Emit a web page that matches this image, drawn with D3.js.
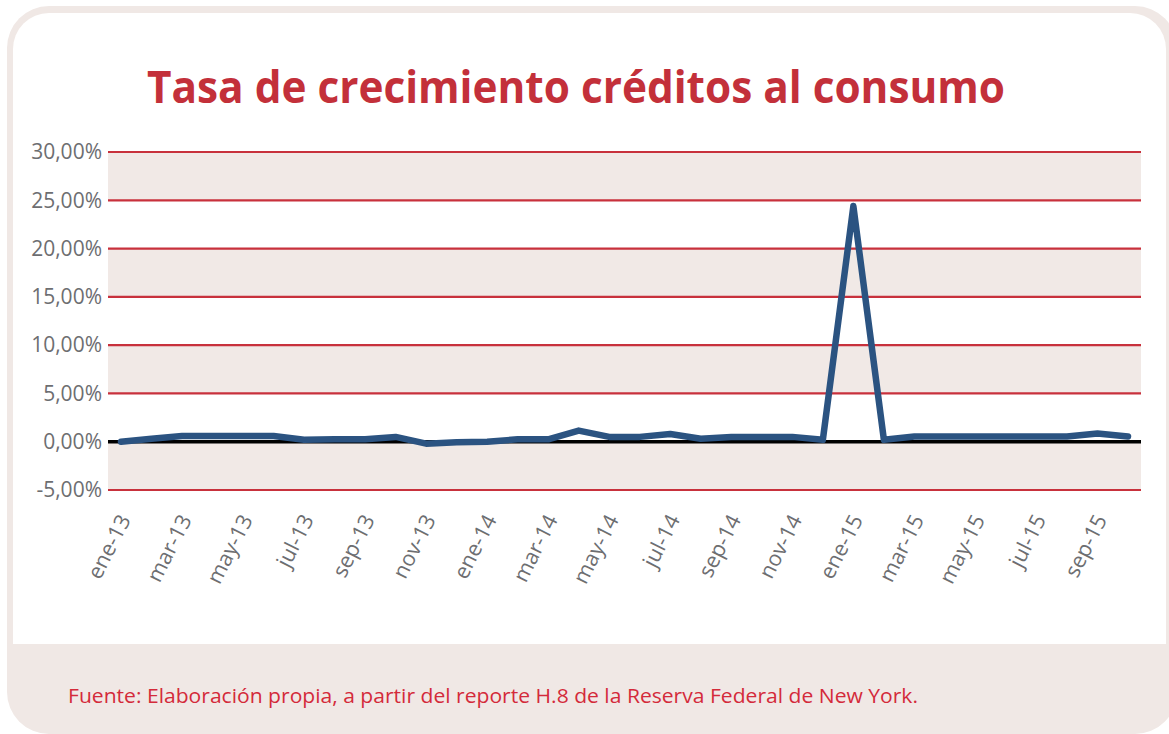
<!DOCTYPE html>
<html>
<head>
<meta charset="utf-8">
<script src="https://cdnjs.cloudflare.com/ajax/libs/d3/7.8.5/d3.min.js"></script>
<style>
  body { margin: 0; background: #ffffff; }
  svg { display: block; }
  text { font-family: "Open Sans", "Noto Sans", sans-serif; }
</style>
</head>
<body>
<div id="chartDiv"></div>
<script>
// monthly categories, ene-13 .. oct-15
var months = ["ene-13","feb-13","mar-13","abr-13","may-13","jun-13","jul-13","ago-13","sep-13","oct-13","nov-13","dic-13",
              "ene-14","feb-14","mar-14","abr-14","may-14","jun-14","jul-14","ago-14","sep-14","oct-14","nov-14","dic-14",
              "ene-15","feb-15","mar-15","abr-15","may-15","jun-15","jul-15","ago-15","sep-15","oct-15"];
// growth rate, percent
var values = [0.0, 0.3, 0.6, 0.6, 0.6, 0.6, 0.2, 0.25, 0.25, 0.5, -0.2, -0.05,
              0.0, 0.25, 0.25, 1.15, 0.5, 0.5, 0.8, 0.3, 0.5, 0.5, 0.5, 0.2,
              24.4, 0.2, 0.55, 0.55, 0.55, 0.55, 0.55, 0.55, 0.85, 0.55];
var yTicks = [-5, 0, 5, 10, 15, 20, 25, 30];
var xTickLabels = months.filter(function(d, i){ return i % 2 == 0 });
var title = "Tasa de crecimiento créditos al consumo";
var source = "Fuente: Elaboración propia, a partir del reporte H.8 de la Reserva Federal de New York.";

var W = 1169, H = 734;
var plot = {left: 108, right: 1141, top: 152, bottom: 490};

var svg = d3.select("#chartDiv").append("svg")
  .attr("width", W)
  .attr("height", H);

// card background (border + footer colour) and white inner panel
svg.append("rect")
  .attr("x", 7).attr("y", 6)
  .attr("width", 1170).attr("height", 728)
  .attr("rx", 42).attr("ry", 42)
  .style("fill", "#f0e8e5");

var ix = 13, iy = 13, ir = 36, iw = 1166 - 13, ih = 644 - 13;
svg.append("path")
  .attr("d", "M" + ix + "," + (iy + ir) +
    " A" + ir + "," + ir + " 0 0 1 " + (ix + ir) + "," + iy +
    " L" + (ix + iw - ir) + "," + iy +
    " A" + ir + "," + ir + " 0 0 1 " + (ix + iw) + "," + (iy + ir) +
    " L" + (ix + iw) + "," + (iy + ih) +
    " L" + ix + "," + (iy + ih) + " Z")
  .style("fill", "#ffffff");

// scales
var x = d3.scalePoint().domain(months).range([121, 1128]);
var y = d3.scaleLinear().domain([-5, 30]).range([plot.bottom, plot.top]);

// shaded bands
var bands = [[25, 30], [15, 20], [5, 10], [-5, 0]];
svg.append("g").attr("class", "bands").selectAll("rect").data(bands).enter().append("rect")
  .attr("x", plot.left)
  .attr("width", plot.right - plot.left)
  .attr("y", function(d){ return y(d[1]) })
  .attr("height", function(d){ return y(d[0]) - y(d[1]) })
  .style("fill", "#f1e9e6");

// gridlines
svg.append("g").attr("class", "grid").selectAll("line").data(yTicks).enter().append("line")
  .attr("x1", plot.left)
  .attr("x2", plot.right)
  .attr("y1", function(d){ return y(d) })
  .attr("y2", function(d){ return y(d) })
  .style("stroke", function(d){ return d == 0 ? "#000000" : "#c8313c" })
  .style("stroke-width", function(d){ return d == 0 ? 3.5 : 2.2 });

// y axis labels
var fmt = function(d){ return d.toFixed(2).replace(".", ",") + "%" };
var yAxis = d3.axisLeft(y).tickValues(yTicks).tickFormat(fmt).tickSize(0).tickPadding(0);
var yg = svg.append("g").attr("class", "yaxis")
  .attr("transform", "translate(102,0)")
  .call(yAxis);
yg.select(".domain").remove();
yg.selectAll("text")
  .style("font-family", "'Open Sans', sans-serif")
  .style("font-size", "21px")
  .style("fill", "#6d6e71");

// x axis labels
var xAxis = d3.axisBottom(x).tickValues(xTickLabels).tickSize(0).tickPadding(0);
var xg = svg.append("g").attr("class", "xaxis")
  .attr("transform", "translate(0,516)")
  .call(xAxis);
xg.select(".domain").remove();
xg.selectAll("text")
  .attr("x", 0).attr("y", 0).attr("dy", "0.35em")
  .attr("transform", "translate(3,0) rotate(-63)")
  .style("text-anchor", "end")
  .style("font-family", "'Open Sans', sans-serif")
  .style("font-size", "21.5px")
  .style("fill", "#6d6e71");

// the series line
var line = d3.line()
  .x(function(d, i){ return x(months[i]) })
  .y(function(d){ return y(d) });
svg.append("path")
  .datum(values)
  .attr("class", "line")
  .attr("d", line)
  .style("fill", "none")
  .style("stroke", "#2b5381")
  .style("stroke-width", 6.5)
  .style("stroke-linejoin", "round")
  .style("stroke-linecap", "round");

// title
svg.append("text")
  .attr("x", 147).attr("y", 103)
  .attr("textLength", 858)
  .attr("lengthAdjust", "spacingAndGlyphs")
  .style("font-family", "'Open Sans', sans-serif")
  .style("font-weight", "bold")
  .style("font-size", "44px")
  .style("fill", "#c3303a")
  .text(title);

// source note
svg.append("text")
  .attr("x", 68).attr("y", 703)
  .attr("textLength", 850)
  .attr("lengthAdjust", "spacingAndGlyphs")
  .style("font-family", "'Open Sans', sans-serif")
  .style("font-size", "19.5px")
  .style("fill", "#d42a3a")
  .text(source);
</script>
</body>
</html>
